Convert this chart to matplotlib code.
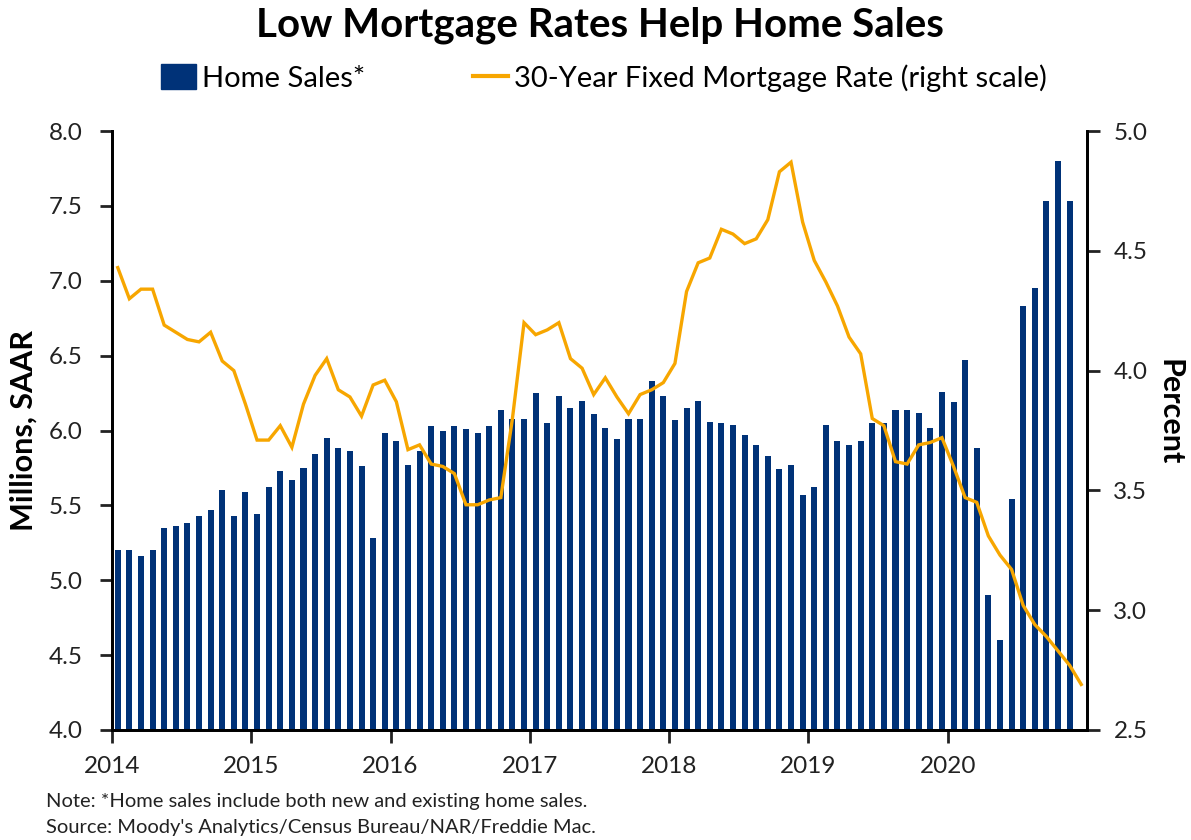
import numpy as np
import matplotlib.pyplot as plt
from matplotlib.patches import Patch
from matplotlib.lines import Line2D

plt.rcParams['font.family'] = ['Lato', 'DejaVu Sans']

# monthly home sales, Jan 2014 - Nov 2020 (millions, SAAR)
home_sales = [
    5.20, 5.20, 5.16, 5.20, 5.35, 5.36, 5.38, 5.43, 5.47, 5.60, 5.43, 5.59,
    5.44, 5.62, 5.73, 5.67, 5.75, 5.84, 5.95, 5.88, 5.86, 5.76, 5.28, 5.98,
    5.93, 5.77, 5.86, 6.03, 6.00, 6.03, 6.01, 5.98, 6.03, 6.14, 6.08, 6.08,
    6.25, 6.05, 6.23, 6.15, 6.20, 6.11, 6.02, 5.94, 6.08, 6.08, 6.33, 6.23,
    6.07, 6.15, 6.20, 6.06, 6.05, 6.04, 5.97, 5.90, 5.83, 5.74, 5.77, 5.57,
    5.62, 6.04, 5.93, 5.90, 5.93, 6.05, 6.05, 6.14, 6.14, 6.12, 6.02, 6.26,
    6.19, 6.47, 5.88, 4.90, 4.60, 5.54, 6.83, 6.95, 7.53, 7.80, 7.53,
]

# 30-year fixed mortgage rate, Jan 2014 - Dec 2020 (percent)
mortgage_rate = [
    4.43, 4.30, 4.34, 4.34, 4.19, 4.16, 4.13, 4.12, 4.16, 4.04, 4.00, 3.86,
    3.71, 3.71, 3.77, 3.68, 3.86, 3.98, 4.05, 3.92, 3.89, 3.81, 3.94, 3.96,
    3.87, 3.67, 3.69, 3.61, 3.60, 3.57, 3.44, 3.44, 3.46, 3.47, 3.80, 4.20,
    4.15, 4.17, 4.20, 4.05, 4.01, 3.90, 3.97, 3.89, 3.82, 3.90, 3.92, 3.95,
    4.03, 4.33, 4.45, 4.47, 4.59, 4.57, 4.53, 4.55, 4.63, 4.83, 4.87, 4.62,
    4.46, 4.37, 4.27, 4.14, 4.07, 3.80, 3.77, 3.62, 3.61, 3.69, 3.70, 3.72,
    3.60, 3.47, 3.45, 3.31, 3.23, 3.17, 3.02, 2.94, 2.89, 2.83, 2.77, 2.69,
]

years = ['2014', '2015', '2016', '2017', '2018', '2019', '2020']

navy = '#003278'
orange = '#F7A600'

fig = plt.figure(figsize=(11.91, 8.40), dpi=100)
ax = fig.add_axes([0.094, 0.131, 0.8187, 0.713])
ax2 = ax.twinx()

# months sit in the middle of each slot, year ticks at the start
xb = np.arange(len(home_sales)) + 0.5
xl = np.arange(len(mortgage_rate)) + 0.5

ax.bar(xb, np.array(home_sales) - 4.0, bottom=4.0, width=0.52, color=navy)
ax2.plot(xl, mortgage_rate, color=orange, lw=2.4, solid_joinstyle='miter')

ax.set_xlim(0, 84)
ax.set_ylim(4.0, 8.0)
ax2.set_ylim(2.5, 5.0)
ax.set_yticks(np.arange(4.0, 8.01, 0.5))
ax.set_yticklabels(['%.1f' % v for v in np.arange(4.0, 8.01, 0.5)])
ax2.set_yticks(np.arange(2.5, 5.01, 0.5))
ax2.set_yticklabels(['%.1f' % v for v in np.arange(2.5, 5.01, 0.5)])
ax.set_xticks(np.arange(0, 84, 12))
ax.set_xticklabels(years)

for a in (ax, ax2):
    a.spines['top'].set_visible(False)
    for s in ('left', 'right', 'bottom'):
        a.spines[s].set_linewidth(2)
    a.tick_params(width=2, length=9, labelsize=17.5, colors='#222222', direction='out')
ax.tick_params(axis='x', pad=10)
ax.tick_params(axis='y', pad=12)
ax2.tick_params(axis='y', pad=10)

ax.set_ylabel('Millions, SAAR', fontsize=22, fontweight='bold', labelpad=8)
ax2.set_ylabel('Percent', fontsize=22, fontweight='bold', rotation=-90, labelpad=26)
ax2.yaxis.label.set_y(0.53)

fig.suptitle('Low Mortgage Rates Help Home Sales', x=0.504, y=0.992,
             fontsize=29, fontweight='bold', va='top')

handles = [Patch(color=navy), Line2D([], [], color=orange, lw=3)]
labels = ['Home Sales*', '30-Year Fixed Mortgage Rate (right scale)']
fig.legend(handles, labels, loc='center', bbox_to_anchor=(0.507, 0.907), ncol=2,
           frameon=False, fontsize=21, handlelength=1.2, handleheight=0.95,
           handletextpad=0.2, columnspacing=3.7)

fig.text(0.039, 0.046, 'Note: *Home sales include both new and existing home sales.',
         fontsize=14.5, color='#222222', va='center')
fig.text(0.039, 0.015, "Source: Moody's Analytics/Census Bureau/NAR/Freddie Mac.",
         fontsize=14.5, color='#222222', va='center')

fig.savefig('out.png', dpi=100)
